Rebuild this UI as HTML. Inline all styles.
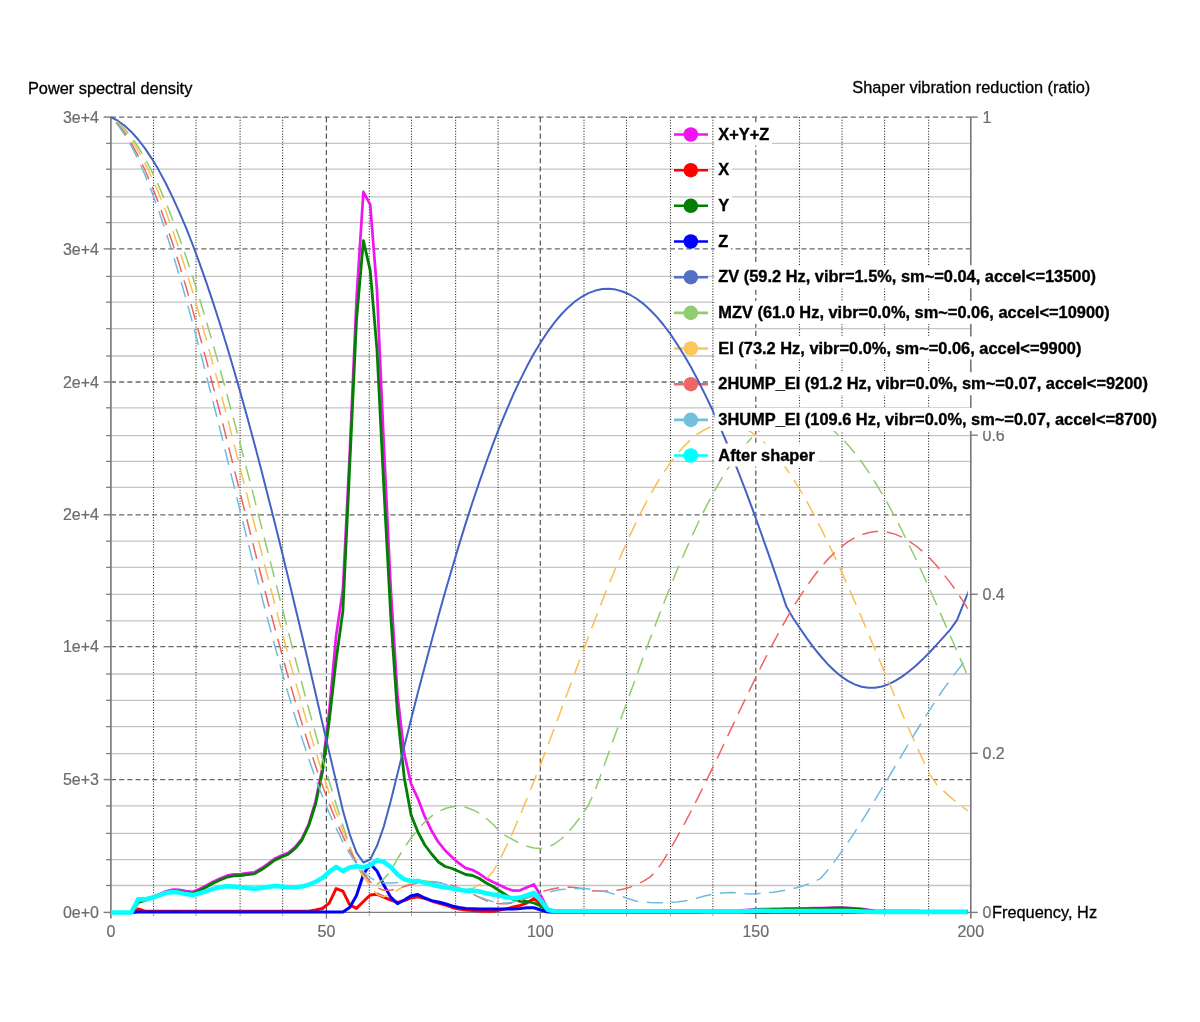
<!DOCTYPE html>
<html><head><meta charset="utf-8"><style>
html,body{margin:0;padding:0;background:#fff;width:1200px;height:1022px;overflow:hidden}
svg{position:absolute;left:0;top:0;will-change:transform}
text{font-family:"Liberation Sans",sans-serif}
.lb{font-size:16px;fill:#6b6b70;stroke:#6b6b70;stroke-width:0.2px}
.tt{font-size:16.35px;fill:#000;stroke:#000;stroke-width:0.3px}
.lg{font-size:16.4px;font-weight:bold;fill:#000;stroke:#000;stroke-width:0.35px}
</style></head><body>
<svg width="1200" height="1022" viewBox="0 0 1200 1022">
<rect width="1200" height="1022" fill="#fff"/>
<line x1="110.9" y1="143.4" x2="970.8" y2="143.4" stroke="#c4c4c4" stroke-width="1.3"/>
<line x1="106.10000000000001" y1="143.4" x2="110.9" y2="143.4" stroke="#7c7c82" stroke-width="1.3"/>
<line x1="110.9" y1="169.2" x2="970.8" y2="169.2" stroke="#c4c4c4" stroke-width="1.3"/>
<line x1="106.10000000000001" y1="169.2" x2="110.9" y2="169.2" stroke="#7c7c82" stroke-width="1.3"/>
<line x1="110.9" y1="196.8" x2="970.8" y2="196.8" stroke="#c4c4c4" stroke-width="1.3"/>
<line x1="106.10000000000001" y1="196.8" x2="110.9" y2="196.8" stroke="#7c7c82" stroke-width="1.3"/>
<line x1="110.9" y1="222.6" x2="970.8" y2="222.6" stroke="#c4c4c4" stroke-width="1.3"/>
<line x1="106.10000000000001" y1="222.6" x2="110.9" y2="222.6" stroke="#7c7c82" stroke-width="1.3"/>
<line x1="110.9" y1="276.4" x2="970.8" y2="276.4" stroke="#c4c4c4" stroke-width="1.3"/>
<line x1="106.10000000000001" y1="276.4" x2="110.9" y2="276.4" stroke="#7c7c82" stroke-width="1.3"/>
<line x1="110.9" y1="302.2" x2="970.8" y2="302.2" stroke="#c4c4c4" stroke-width="1.3"/>
<line x1="106.10000000000001" y1="302.2" x2="110.9" y2="302.2" stroke="#7c7c82" stroke-width="1.3"/>
<line x1="110.9" y1="328.6" x2="970.8" y2="328.6" stroke="#c4c4c4" stroke-width="1.3"/>
<line x1="106.10000000000001" y1="328.6" x2="110.9" y2="328.6" stroke="#7c7c82" stroke-width="1.3"/>
<line x1="110.9" y1="356.0" x2="970.8" y2="356.0" stroke="#c4c4c4" stroke-width="1.3"/>
<line x1="106.10000000000001" y1="356.0" x2="110.9" y2="356.0" stroke="#7c7c82" stroke-width="1.3"/>
<line x1="110.9" y1="407.8" x2="970.8" y2="407.8" stroke="#c4c4c4" stroke-width="1.3"/>
<line x1="106.10000000000001" y1="407.8" x2="110.9" y2="407.8" stroke="#7c7c82" stroke-width="1.3"/>
<line x1="110.9" y1="435.6" x2="970.8" y2="435.6" stroke="#c4c4c4" stroke-width="1.3"/>
<line x1="106.10000000000001" y1="435.6" x2="110.9" y2="435.6" stroke="#7c7c82" stroke-width="1.3"/>
<line x1="110.9" y1="461.4" x2="970.8" y2="461.4" stroke="#c4c4c4" stroke-width="1.3"/>
<line x1="106.10000000000001" y1="461.4" x2="110.9" y2="461.4" stroke="#7c7c82" stroke-width="1.3"/>
<line x1="110.9" y1="487.3" x2="970.8" y2="487.3" stroke="#c4c4c4" stroke-width="1.3"/>
<line x1="106.10000000000001" y1="487.3" x2="110.9" y2="487.3" stroke="#7c7c82" stroke-width="1.3"/>
<line x1="110.9" y1="541.2" x2="970.8" y2="541.2" stroke="#c4c4c4" stroke-width="1.3"/>
<line x1="106.10000000000001" y1="541.2" x2="110.9" y2="541.2" stroke="#7c7c82" stroke-width="1.3"/>
<line x1="110.9" y1="567.4" x2="970.8" y2="567.4" stroke="#c4c4c4" stroke-width="1.3"/>
<line x1="106.10000000000001" y1="567.4" x2="110.9" y2="567.4" stroke="#7c7c82" stroke-width="1.3"/>
<line x1="110.9" y1="594.3" x2="970.8" y2="594.3" stroke="#c4c4c4" stroke-width="1.3"/>
<line x1="106.10000000000001" y1="594.3" x2="110.9" y2="594.3" stroke="#7c7c82" stroke-width="1.3"/>
<line x1="110.9" y1="620.8" x2="970.8" y2="620.8" stroke="#c4c4c4" stroke-width="1.3"/>
<line x1="106.10000000000001" y1="620.8" x2="110.9" y2="620.8" stroke="#7c7c82" stroke-width="1.3"/>
<line x1="110.9" y1="674.0" x2="970.8" y2="674.0" stroke="#c4c4c4" stroke-width="1.3"/>
<line x1="106.10000000000001" y1="674.0" x2="110.9" y2="674.0" stroke="#7c7c82" stroke-width="1.3"/>
<line x1="110.9" y1="700.3" x2="970.8" y2="700.3" stroke="#c4c4c4" stroke-width="1.3"/>
<line x1="106.10000000000001" y1="700.3" x2="110.9" y2="700.3" stroke="#7c7c82" stroke-width="1.3"/>
<line x1="110.9" y1="726.6" x2="970.8" y2="726.6" stroke="#c4c4c4" stroke-width="1.3"/>
<line x1="106.10000000000001" y1="726.6" x2="110.9" y2="726.6" stroke="#7c7c82" stroke-width="1.3"/>
<line x1="110.9" y1="753.6" x2="970.8" y2="753.6" stroke="#c4c4c4" stroke-width="1.3"/>
<line x1="106.10000000000001" y1="753.6" x2="110.9" y2="753.6" stroke="#7c7c82" stroke-width="1.3"/>
<line x1="110.9" y1="805.9" x2="970.8" y2="805.9" stroke="#c4c4c4" stroke-width="1.3"/>
<line x1="106.10000000000001" y1="805.9" x2="110.9" y2="805.9" stroke="#7c7c82" stroke-width="1.3"/>
<line x1="110.9" y1="833.4" x2="970.8" y2="833.4" stroke="#c4c4c4" stroke-width="1.3"/>
<line x1="106.10000000000001" y1="833.4" x2="110.9" y2="833.4" stroke="#7c7c82" stroke-width="1.3"/>
<line x1="110.9" y1="859.7" x2="970.8" y2="859.7" stroke="#c4c4c4" stroke-width="1.3"/>
<line x1="106.10000000000001" y1="859.7" x2="110.9" y2="859.7" stroke="#7c7c82" stroke-width="1.3"/>
<line x1="110.9" y1="885.5" x2="970.8" y2="885.5" stroke="#c4c4c4" stroke-width="1.3"/>
<line x1="106.10000000000001" y1="885.5" x2="110.9" y2="885.5" stroke="#7c7c82" stroke-width="1.3"/>
<line x1="153.5" y1="117.1" x2="153.5" y2="912.4" stroke="#222" stroke-width="1.1" stroke-dasharray="1 1.72"/>
<line x1="153.5" y1="912.4" x2="153.5" y2="915.8" stroke="#444" stroke-width="1" stroke-dasharray="1 1.2"/>
<line x1="196.0" y1="117.1" x2="196.0" y2="912.4" stroke="#222" stroke-width="1.1" stroke-dasharray="1 1.72"/>
<line x1="196.0" y1="912.4" x2="196.0" y2="915.8" stroke="#444" stroke-width="1" stroke-dasharray="1 1.2"/>
<line x1="240.1" y1="117.1" x2="240.1" y2="912.4" stroke="#222" stroke-width="1.1" stroke-dasharray="1 1.72"/>
<line x1="240.1" y1="912.4" x2="240.1" y2="915.8" stroke="#444" stroke-width="1" stroke-dasharray="1 1.2"/>
<line x1="282.6" y1="117.1" x2="282.6" y2="912.4" stroke="#222" stroke-width="1.1" stroke-dasharray="1 1.72"/>
<line x1="282.6" y1="912.4" x2="282.6" y2="915.8" stroke="#444" stroke-width="1" stroke-dasharray="1 1.2"/>
<line x1="326.4" y1="117.1" x2="326.4" y2="912.4" stroke="#555" stroke-width="1.2" stroke-dasharray="5.1 3.12"/>
<line x1="326.4" y1="912.4" x2="326.4" y2="918.6999999999999" stroke="#7c7c82" stroke-width="1.3"/>
<line x1="369.3" y1="117.1" x2="369.3" y2="912.4" stroke="#222" stroke-width="1.1" stroke-dasharray="1 1.72"/>
<line x1="369.3" y1="912.4" x2="369.3" y2="915.8" stroke="#444" stroke-width="1" stroke-dasharray="1 1.2"/>
<line x1="411.5" y1="117.1" x2="411.5" y2="912.4" stroke="#222" stroke-width="1.1" stroke-dasharray="1 1.72"/>
<line x1="411.5" y1="912.4" x2="411.5" y2="915.8" stroke="#444" stroke-width="1" stroke-dasharray="1 1.2"/>
<line x1="455.6" y1="117.1" x2="455.6" y2="912.4" stroke="#222" stroke-width="1.1" stroke-dasharray="1 1.72"/>
<line x1="455.6" y1="912.4" x2="455.6" y2="915.8" stroke="#444" stroke-width="1" stroke-dasharray="1 1.2"/>
<line x1="498.1" y1="117.1" x2="498.1" y2="912.4" stroke="#222" stroke-width="1.1" stroke-dasharray="1 1.72"/>
<line x1="498.1" y1="912.4" x2="498.1" y2="915.8" stroke="#444" stroke-width="1" stroke-dasharray="1 1.2"/>
<line x1="540.3" y1="117.1" x2="540.3" y2="912.4" stroke="#555" stroke-width="1.2" stroke-dasharray="5.1 3.12"/>
<line x1="540.3" y1="912.4" x2="540.3" y2="918.6999999999999" stroke="#7c7c82" stroke-width="1.3"/>
<line x1="584.0" y1="117.1" x2="584.0" y2="912.4" stroke="#222" stroke-width="1.1" stroke-dasharray="1 1.72"/>
<line x1="584.0" y1="912.4" x2="584.0" y2="915.8" stroke="#444" stroke-width="1" stroke-dasharray="1 1.2"/>
<line x1="626.5" y1="117.1" x2="626.5" y2="912.4" stroke="#222" stroke-width="1.1" stroke-dasharray="1 1.72"/>
<line x1="626.5" y1="912.4" x2="626.5" y2="915.8" stroke="#444" stroke-width="1" stroke-dasharray="1 1.2"/>
<line x1="670.5" y1="117.1" x2="670.5" y2="912.4" stroke="#222" stroke-width="1.1" stroke-dasharray="1 1.72"/>
<line x1="670.5" y1="912.4" x2="670.5" y2="915.8" stroke="#444" stroke-width="1" stroke-dasharray="1 1.2"/>
<line x1="712.9" y1="117.1" x2="712.9" y2="912.4" stroke="#222" stroke-width="1.1" stroke-dasharray="1 1.72"/>
<line x1="712.9" y1="912.4" x2="712.9" y2="915.8" stroke="#444" stroke-width="1" stroke-dasharray="1 1.2"/>
<line x1="755.8" y1="117.1" x2="755.8" y2="912.4" stroke="#555" stroke-width="1.2" stroke-dasharray="5.1 3.12"/>
<line x1="755.8" y1="912.4" x2="755.8" y2="918.6999999999999" stroke="#7c7c82" stroke-width="1.3"/>
<line x1="799.5" y1="117.1" x2="799.5" y2="912.4" stroke="#222" stroke-width="1.1" stroke-dasharray="1 1.72"/>
<line x1="799.5" y1="912.4" x2="799.5" y2="915.8" stroke="#444" stroke-width="1" stroke-dasharray="1 1.2"/>
<line x1="842.0" y1="117.1" x2="842.0" y2="912.4" stroke="#222" stroke-width="1.1" stroke-dasharray="1 1.72"/>
<line x1="842.0" y1="912.4" x2="842.0" y2="915.8" stroke="#444" stroke-width="1" stroke-dasharray="1 1.2"/>
<line x1="884.6" y1="117.1" x2="884.6" y2="912.4" stroke="#222" stroke-width="1.1" stroke-dasharray="1 1.72"/>
<line x1="884.6" y1="912.4" x2="884.6" y2="915.8" stroke="#444" stroke-width="1" stroke-dasharray="1 1.2"/>
<line x1="928.6" y1="117.1" x2="928.6" y2="912.4" stroke="#222" stroke-width="1.1" stroke-dasharray="1 1.72"/>
<line x1="928.6" y1="912.4" x2="928.6" y2="915.8" stroke="#444" stroke-width="1" stroke-dasharray="1 1.2"/>
<line x1="110.9" y1="117.1" x2="970.8" y2="117.1" stroke="#6a6a6a" stroke-width="1.3" stroke-dasharray="5.1 3.12"/>
<line x1="103.60000000000001" y1="117.1" x2="110.9" y2="117.1" stroke="#7c7c82" stroke-width="1.4"/>
<line x1="110.9" y1="248.9" x2="970.8" y2="248.9" stroke="#6a6a6a" stroke-width="1.3" stroke-dasharray="5.1 3.12"/>
<line x1="103.60000000000001" y1="248.9" x2="110.9" y2="248.9" stroke="#7c7c82" stroke-width="1.4"/>
<line x1="110.9" y1="382.0" x2="970.8" y2="382.0" stroke="#6a6a6a" stroke-width="1.3" stroke-dasharray="5.1 3.12"/>
<line x1="103.60000000000001" y1="382.0" x2="110.9" y2="382.0" stroke="#7c7c82" stroke-width="1.4"/>
<line x1="110.9" y1="514.8" x2="970.8" y2="514.8" stroke="#6a6a6a" stroke-width="1.3" stroke-dasharray="5.1 3.12"/>
<line x1="103.60000000000001" y1="514.8" x2="110.9" y2="514.8" stroke="#7c7c82" stroke-width="1.4"/>
<line x1="110.9" y1="646.7" x2="970.8" y2="646.7" stroke="#6a6a6a" stroke-width="1.3" stroke-dasharray="5.1 3.12"/>
<line x1="103.60000000000001" y1="646.7" x2="110.9" y2="646.7" stroke="#7c7c82" stroke-width="1.4"/>
<line x1="110.9" y1="779.6" x2="970.8" y2="779.6" stroke="#6a6a6a" stroke-width="1.3" stroke-dasharray="5.1 3.12"/>
<line x1="103.60000000000001" y1="779.6" x2="110.9" y2="779.6" stroke="#7c7c82" stroke-width="1.4"/>
<line x1="110.9" y1="912.4" x2="970.8" y2="912.4" stroke="#7c7c82" stroke-width="1.4"/>
<line x1="103.60000000000001" y1="912.4" x2="110.9" y2="912.4" stroke="#7c7c82" stroke-width="1.4"/>
<line x1="110.9" y1="117.1" x2="110.9" y2="918.4" stroke="#7c7c82" stroke-width="1.7"/>
<line x1="970.8" y1="117.1" x2="970.8" y2="918.4" stroke="#7c7c82" stroke-width="1.7"/>
<line x1="970.8" y1="117.1" x2="977.8" y2="117.1" stroke="#7c7c82" stroke-width="1.4"/>
<line x1="970.8" y1="276.2" x2="977.8" y2="276.2" stroke="#7c7c82" stroke-width="1.4"/>
<line x1="970.8" y1="435.2" x2="977.8" y2="435.2" stroke="#7c7c82" stroke-width="1.4"/>
<line x1="970.8" y1="594.3" x2="977.8" y2="594.3" stroke="#7c7c82" stroke-width="1.4"/>
<line x1="970.8" y1="753.3" x2="977.8" y2="753.3" stroke="#7c7c82" stroke-width="1.4"/>
<line x1="970.8" y1="912.4" x2="977.8" y2="912.4" stroke="#7c7c82" stroke-width="1.4"/>
<text x="99" y="122.7" text-anchor="end" class="lb">3e+4</text>
<text x="99" y="254.5" text-anchor="end" class="lb">3e+4</text>
<text x="99" y="387.6" text-anchor="end" class="lb">2e+4</text>
<text x="99" y="520.4" text-anchor="end" class="lb">2e+4</text>
<text x="99" y="652.3" text-anchor="end" class="lb">1e+4</text>
<text x="99" y="785.2" text-anchor="end" class="lb">5e+3</text>
<text x="99" y="918.0" text-anchor="end" class="lb">0e+0</text>
<text x="982.5" y="122.7" class="lb">1</text>
<text x="982.5" y="281.8" class="lb">0.8</text>
<text x="982.5" y="440.8" class="lb">0.6</text>
<text x="982.5" y="599.9" class="lb">0.4</text>
<text x="982.5" y="758.9" class="lb">0.2</text>
<text x="982.5" y="918.0" class="lb">0</text>
<text x="110.9" y="936.5" text-anchor="middle" class="lb">0</text>
<text x="326.4" y="936.5" text-anchor="middle" class="lb">50</text>
<text x="540.3" y="936.5" text-anchor="middle" class="lb">100</text>
<text x="755.8" y="936.5" text-anchor="middle" class="lb">150</text>
<text x="970.8" y="936.5" text-anchor="middle" class="lb">200</text>
<text x="992" y="917.6" class="tt">Frequency, Hz</text>
<text x="27.9" y="93.6" class="tt">Power spectral density</text>
<text x="1090.3" y="93.4" text-anchor="end" class="tt">Shaper vibration reduction (ratio)</text>
<line x1="674" y1="134.5" x2="708" y2="134.5" stroke="#f014f0" stroke-width="2.6"/><circle cx="690.8" cy="134.5" r="7.3" fill="#f014f0"/><line x1="674" y1="170.2" x2="708" y2="170.2" stroke="#ff0000" stroke-width="2.6"/><circle cx="690.8" cy="170.2" r="7.3" fill="#ff0000"/><line x1="674" y1="205.8" x2="708" y2="205.8" stroke="#007f00" stroke-width="2.6"/><circle cx="690.8" cy="205.8" r="7.3" fill="#007f00"/><line x1="674" y1="241.5" x2="708" y2="241.5" stroke="#0000ff" stroke-width="2.6"/><circle cx="690.8" cy="241.5" r="7.3" fill="#0000ff"/><line x1="674" y1="277.2" x2="708" y2="277.2" stroke="#5470c6" stroke-width="2.6"/><circle cx="690.8" cy="277.2" r="7.3" fill="#5470c6"/><line x1="674" y1="312.9" x2="708" y2="312.9" stroke="#91cc75" stroke-width="2.6"/><circle cx="690.8" cy="312.9" r="7.3" fill="#91cc75"/><line x1="674" y1="348.5" x2="708" y2="348.5" stroke="#fac858" stroke-width="2.6"/><circle cx="690.8" cy="348.5" r="7.3" fill="#fac858"/><line x1="674" y1="384.2" x2="708" y2="384.2" stroke="#ee6666" stroke-width="2.6"/><circle cx="690.8" cy="384.2" r="7.3" fill="#ee6666"/><line x1="674" y1="419.9" x2="708" y2="419.9" stroke="#73c0de" stroke-width="2.6"/><circle cx="690.8" cy="419.9" r="7.3" fill="#73c0de"/><line x1="674" y1="455.5" x2="708" y2="455.5" stroke="#00ffff" stroke-width="2.6"/><circle cx="690.8" cy="455.5" r="7.3" fill="#00ffff"/>
<g clip-path="url(#clip)">
<clipPath id="clip"><rect x="110.9" y="114.1" width="856.9" height="801.3"/></clipPath>
<path d="M110.9,912.4 L117.7,912.4 L124.5,912.4 L131.4,912.4 L138.2,898.8 L145.0,899.0 L151.8,897.0 L158.7,894.5 L165.5,891.5 L172.3,889.7 L179.1,889.9 L186.0,891.2 L192.8,891.8 L199.6,889.0 L206.4,885.5 L213.2,881.7 L220.1,878.5 L226.9,875.7 L233.7,874.4 L240.5,874.0 L247.4,873.2 L254.2,872.4 L261.0,868.5 L267.8,863.9 L274.7,858.7 L281.5,855.4 L288.3,852.7 L295.1,847.0 L302.0,838.5 L308.8,824.0 L315.6,801.3 L322.4,767.8 L329.2,711.5 L336.1,635.9 L342.9,589.5 L349.7,453.6 L356.5,299.1 L363.4,191.8 L370.2,204.6 L377.0,290.4 L383.8,444.4 L390.7,587.6 L397.5,695.2 L404.3,753.8 L411.1,784.0 L417.9,798.6 L424.8,816.7 L431.6,830.8 L438.4,842.2 L445.2,850.5 L452.1,857.2 L458.9,863.2 L465.7,868.1 L472.5,870.0 L479.4,873.8 L486.2,878.5 L493.0,882.0 L499.8,885.3 L506.7,888.5 L513.5,890.7 L520.3,890.3 L527.1,887.3 L533.9,884.5 L540.8,895.7 L547.6,908.7 L554.4,910.8 L561.2,910.8 L568.1,910.8 L574.9,910.8 L581.7,910.8 L588.5,910.8 L595.4,910.8 L602.2,910.8 L609.0,910.8 L615.8,910.8 L622.6,910.8 L629.5,910.8 L636.3,910.8 L643.1,910.8 L649.9,910.8 L656.8,910.8 L663.6,910.8 L670.4,910.8 L677.2,910.8 L684.1,910.8 L690.9,910.8 L697.7,910.8 L704.5,910.8 L711.4,910.8 L718.2,910.8 L725.0,910.8 L731.8,910.8 L738.6,910.6 L745.5,910.1 L752.3,909.6 L759.1,909.1 L765.9,909.0 L772.8,908.9 L779.6,908.8 L786.4,908.7 L793.2,908.6 L800.1,908.5 L806.9,908.3 L813.7,908.2 L820.5,908.0 L827.3,907.8 L834.2,907.7 L841.0,907.5 L847.8,907.9 L854.6,908.4 L861.5,908.9 L868.3,909.9 L875.1,910.8 L881.9,910.8 L888.8,910.8 L895.6,910.9 L902.4,910.9 L909.2,910.9 L916.1,910.9 L922.9,911.0 L929.7,911.0 L936.5,911.0 L943.3,911.0 L950.2,911.0 L957.0,911.1 L963.8,911.1 L970.6,911.1" fill="none" stroke="#f014f0" stroke-width="2.7" stroke-linejoin="round"/>
<path d="M110.9,912.4 L117.7,912.4 L124.5,912.4 L131.4,912.4 L138.2,909.0 L145.0,911.2 L151.8,911.2 L158.7,911.2 L165.5,911.2 L172.3,911.2 L179.1,911.2 L186.0,911.2 L192.8,911.2 L199.6,911.2 L206.4,911.2 L213.2,911.2 L220.1,911.2 L226.9,911.2 L233.7,911.2 L240.5,911.2 L247.4,911.2 L254.2,911.2 L261.0,911.2 L267.8,911.2 L274.7,911.2 L281.5,911.2 L288.3,911.2 L295.1,911.2 L302.0,911.2 L308.8,911.2 L315.6,910.0 L322.4,908.5 L329.2,903.2 L336.1,888.6 L342.9,891.2 L349.7,904.9 L356.5,908.4 L363.4,901.5 L370.2,895.0 L377.0,894.2 L383.8,897.2 L390.7,900.2 L397.5,902.4 L404.3,900.6 L411.1,898.0 L417.9,896.8 L424.8,898.5 L431.6,901.0 L438.4,903.0 L445.2,905.0 L452.1,907.5 L458.9,909.0 L465.7,910.0 L472.5,910.5 L479.4,911.0 L486.2,911.2 L493.0,911.2 L499.8,910.0 L506.7,908.7 L513.5,907.0 L520.3,905.3 L527.1,902.8 L533.9,898.5 L540.8,904.5 L547.6,911.0 L554.4,912.2 L561.2,912.2 L568.1,912.2 L574.9,912.2 L581.7,912.2 L588.5,912.2 L595.4,912.2 L602.2,912.2 L609.0,912.2 L615.8,912.2 L622.6,912.2 L629.5,912.2 L636.3,912.2 L643.1,912.2 L649.9,912.2 L656.8,912.2 L663.6,912.2 L670.4,912.2 L677.2,912.2 L684.1,912.2 L690.9,912.2 L697.7,912.2 L704.5,912.2 L711.4,912.2 L718.2,912.2 L725.0,912.2 L731.8,912.2 L738.6,912.2 L745.5,912.2 L752.3,912.2 L759.1,912.2 L765.9,912.2 L772.8,912.2 L779.6,912.2 L786.4,912.2 L793.2,912.2 L800.1,912.2 L806.9,912.2 L813.7,912.2 L820.5,912.2 L827.3,912.2 L834.2,912.2 L841.0,912.2 L847.8,912.2 L854.6,912.2 L861.5,912.2 L868.3,912.2 L875.1,912.2 L881.9,912.2 L888.8,912.2 L895.6,912.2 L902.4,912.2 L909.2,912.2 L916.1,912.2 L922.9,912.2 L929.7,912.2 L936.5,912.2 L943.3,912.2 L950.2,912.2 L957.0,912.2 L963.8,912.2 L970.6,912.2" fill="none" stroke="#ff0000" stroke-width="2.9" stroke-linejoin="round"/>
<path d="M110.9,912.4 L117.7,912.4 L124.5,912.4 L131.4,912.4 L138.2,902.5 L145.0,900.5 L151.8,898.5 L158.7,896.0 L165.5,893.0 L172.3,891.2 L179.1,891.4 L186.0,892.7 L192.8,893.3 L199.6,890.5 L206.4,887.0 L213.2,883.2 L220.1,880.0 L226.9,877.2 L233.7,875.9 L240.5,875.5 L247.4,874.7 L254.2,873.9 L261.0,870.0 L267.8,865.4 L274.7,860.2 L281.5,856.9 L288.3,854.2 L295.1,848.5 L302.0,840.0 L308.8,825.5 L315.6,804.0 L322.4,772.0 L329.2,721.0 L336.1,660.0 L342.9,611.0 L349.7,466.0 L356.5,320.0 L363.4,240.6 L370.2,270.4 L377.0,350.0 L383.8,487.0 L390.7,615.0 L397.5,714.0 L404.3,778.0 L411.1,815.0 L417.9,832.0 L424.8,845.0 L431.6,854.0 L438.4,862.0 L445.2,866.5 L452.1,868.5 L458.9,871.5 L465.7,874.5 L472.5,875.5 L479.4,878.5 L486.2,883.0 L493.0,886.5 L499.8,891.0 L506.7,895.5 L513.5,899.5 L520.3,901.3 L527.1,901.5 L533.9,903.0 L540.8,906.0 L547.6,910.5 L554.4,911.3 L561.2,911.3 L568.1,911.3 L574.9,911.3 L581.7,911.3 L588.5,911.3 L595.4,911.3 L602.2,911.3 L609.0,911.3 L615.8,911.3 L622.6,911.3 L629.5,911.3 L636.3,911.3 L643.1,911.3 L649.9,911.3 L656.8,911.3 L663.6,911.3 L670.4,911.3 L677.2,911.3 L684.1,911.3 L690.9,911.3 L697.7,911.3 L704.5,911.3 L711.4,911.3 L718.2,911.3 L725.0,911.3 L731.8,911.3 L738.6,911.1 L745.5,910.6 L752.3,910.1 L759.1,909.6 L765.9,909.5 L772.8,909.4 L779.6,909.3 L786.4,909.2 L793.2,909.1 L800.1,909.0 L806.9,908.8 L813.7,908.7 L820.5,908.5 L827.3,908.3 L834.2,908.2 L841.0,908.0 L847.8,908.4 L854.6,908.9 L861.5,909.4 L868.3,910.4 L875.1,911.3 L881.9,911.3 L888.8,911.3 L895.6,911.4 L902.4,911.4 L909.2,911.4 L916.1,911.4 L922.9,911.5 L929.7,911.5 L936.5,911.5 L943.3,911.5 L950.2,911.5 L957.0,911.6 L963.8,911.6 L970.6,911.6" fill="none" stroke="#007f00" stroke-width="2.8" stroke-linejoin="round"/>
<path d="M110.9,912.4 L117.7,912.4 L124.5,912.4 L131.4,912.4 L138.2,912.1 L145.0,912.1 L151.8,912.1 L158.7,912.1 L165.5,912.1 L172.3,912.1 L179.1,912.1 L186.0,912.1 L192.8,912.1 L199.6,912.1 L206.4,912.1 L213.2,912.1 L220.1,912.1 L226.9,912.1 L233.7,912.1 L240.5,912.1 L247.4,912.1 L254.2,912.1 L261.0,912.1 L267.8,912.1 L274.7,912.1 L281.5,912.1 L288.3,912.1 L295.1,912.1 L302.0,912.1 L308.8,912.1 L315.6,912.1 L322.4,912.1 L329.2,912.1 L336.1,912.1 L342.9,912.1 L349.7,907.5 L356.5,895.5 L363.4,874.5 L370.2,864.0 L377.0,871.0 L383.8,885.0 L390.7,897.2 L397.5,903.6 L404.3,900.0 L411.1,895.8 L417.9,894.6 L424.8,898.0 L431.6,900.6 L438.4,902.0 L445.2,903.8 L452.1,906.0 L458.9,907.5 L465.7,908.4 L472.5,908.8 L479.4,909.1 L486.2,909.1 L493.0,909.1 L499.8,909.1 L506.7,909.1 L513.5,909.0 L520.3,908.5 L527.1,907.8 L533.9,907.8 L540.8,910.0 L547.6,912.0 L554.4,912.1 L561.2,912.1 L568.1,912.1 L574.9,912.1 L581.7,912.1 L588.5,912.1 L595.4,912.1 L602.2,912.1 L609.0,912.1 L615.8,912.1 L622.6,912.1 L629.5,912.1 L636.3,912.1 L643.1,912.1 L649.9,912.1 L656.8,912.1 L663.6,912.1 L670.4,912.1 L677.2,912.1 L684.1,912.1 L690.9,912.1 L697.7,912.1 L704.5,912.1 L711.4,912.1 L718.2,912.1 L725.0,912.1 L731.8,912.1 L738.6,912.1 L745.5,912.1 L752.3,912.1 L759.1,912.1 L765.9,912.1 L772.8,912.1 L779.6,912.1 L786.4,912.1 L793.2,912.1 L800.1,912.1 L806.9,912.1 L813.7,912.1 L820.5,912.1 L827.3,912.1 L834.2,912.1 L841.0,912.1 L847.8,912.1 L854.6,912.1 L861.5,912.1 L868.3,912.1 L875.1,912.1 L881.9,912.1 L888.8,912.1 L895.6,912.1 L902.4,912.1 L909.2,912.1 L916.1,912.1 L922.9,912.1 L929.7,912.1 L936.5,912.1 L943.3,912.1 L950.2,912.1 L957.0,912.1 L963.8,912.1 L970.6,912.1" fill="none" stroke="#0000ff" stroke-width="3" stroke-linejoin="round"/>
<path d="M110.9,117.1 L117.7,120.7 L124.5,125.6 L131.4,131.9 L138.2,139.5 L145.0,148.4 L151.8,158.6 L158.7,170.1 L165.5,182.7 L172.3,196.6 L179.1,211.6 L186.0,227.7 L192.8,245.0 L199.6,263.3 L206.4,282.6 L213.2,302.9 L220.1,324.2 L226.9,346.3 L233.7,369.3 L240.5,393.1 L247.4,417.7 L254.2,442.9 L261.0,468.8 L267.8,495.4 L274.7,522.5 L281.5,550.0 L288.3,578.1 L295.1,606.5 L302.0,635.3 L308.8,664.3 L315.6,693.5 L322.4,722.9 L329.2,752.2 L336.1,781.5 L342.9,810.6 L349.7,834.3 L356.5,852.6 L363.4,862.5 L370.2,859.5 L377.0,845.8 L383.8,826.6 L390.7,801.2 L397.5,773.7 L404.3,746.3 L411.1,719.2 L417.9,692.6 L424.8,666.5 L431.6,641.0 L438.4,616.0 L445.2,591.8 L452.1,568.2 L458.9,545.4 L465.7,523.4 L472.5,502.2 L479.4,481.9 L486.2,462.5 L493.0,443.9 L499.8,426.4 L506.7,409.8 L513.5,394.2 L520.3,379.6 L527.1,366.1 L533.9,353.6 L540.8,342.2 L547.6,331.8 L554.4,322.6 L561.2,314.5 L568.1,307.4 L574.9,301.5 L581.7,296.8 L588.5,293.1 L595.4,290.6 L602.2,289.1 L609.0,288.8 L615.8,289.6 L622.6,291.5 L629.5,294.5 L636.3,298.5 L643.1,303.6 L649.9,309.7 L656.8,316.9 L663.6,325.0 L670.4,334.1 L677.2,344.2 L684.1,355.2 L690.9,367.0 L697.7,379.8 L704.5,393.4 L711.4,407.7 L718.2,422.9 L725.0,438.7 L731.8,455.3 L738.6,472.5 L745.5,490.3 L752.3,508.6 L759.1,527.5 L765.9,546.7 L772.8,566.4 L779.6,586.4 L786.4,606.6 L793.2,618.2 L800.1,628.5 L806.9,638.4 L813.7,647.6 L820.5,656.0 L827.3,663.7 L834.2,670.5 L841.0,676.2 L847.8,680.9 L854.6,684.4 L861.5,686.7 L868.3,687.8 L875.1,687.7 L881.9,686.5 L888.8,684.1 L895.6,680.7 L902.4,676.4 L909.2,671.3 L916.1,665.5 L922.9,659.1 L929.7,652.2 L936.5,644.9 L943.3,637.3 L950.2,629.6 L957.0,620.2 L963.8,603.1 L970.6,586.4" fill="none" stroke="#4462c4" stroke-width="2" stroke-linejoin="round"/>
<path d="M110.9,117.1 L117.7,122.1 L124.5,128.8 L131.4,137.1 L138.2,147.0 L145.0,158.5 L151.8,171.5 L158.7,185.9 L165.5,201.6 L172.3,218.8 L179.1,237.1 L186.0,256.6 L192.8,277.3 L199.6,298.9 L206.4,321.5 L213.2,344.9 L220.1,369.1 L226.9,394.0 L233.7,419.4 L240.5,445.3 L247.4,471.6 L254.2,498.1 L261.0,524.9 L267.8,551.7 L274.7,578.6 L281.5,605.3 L288.3,631.8 L295.1,658.0 L302.0,683.9 L308.8,709.2 L315.6,734.0 L322.4,758.2 L329.2,781.5 L336.1,804.1 L342.9,825.6 L349.7,846.1 L356.5,864.9 L363.4,876.8 L370.2,884.0 L377.0,884.3 L383.8,878.9 L390.7,870.8 L397.5,858.8 L404.3,847.7 L411.1,837.9 L417.9,829.3 L424.8,822.0 L431.6,816.1 L438.4,811.6 L445.2,808.5 L452.1,806.7 L458.9,806.4 L465.7,807.3 L472.5,809.7 L479.4,813.3 L486.2,818.2 L493.0,824.3 L499.8,831.7 L506.7,836.3 L513.5,840.0 L520.3,843.5 L527.1,846.3 L533.9,848.1 L540.8,848.5 L547.6,847.1 L554.4,844.0 L561.2,839.0 L568.1,832.3 L574.9,824.3 L581.7,815.1 L588.5,805.0 L595.4,789.5 L602.2,770.9 L609.0,752.1 L615.8,733.1 L622.6,714.1 L629.5,695.2 L636.3,676.4 L643.1,657.7 L649.9,639.3 L656.8,621.3 L663.6,603.7 L670.4,586.5 L677.2,569.8 L684.1,553.8 L690.9,538.4 L697.7,523.7 L704.5,509.8 L711.4,496.7 L718.2,484.4 L725.0,473.0 L731.8,462.6 L738.6,453.1 L745.5,444.7 L752.3,437.2 L759.1,430.8 L765.9,425.5 L772.8,421.2 L779.6,418.1 L786.4,416.0 L793.2,415.0 L800.1,415.0 L806.9,416.2 L813.7,418.4 L820.5,421.7 L827.3,425.9 L834.2,431.2 L841.0,437.5 L847.8,444.7 L854.6,452.8 L861.5,461.8 L868.3,471.6 L875.1,482.2 L881.9,493.6 L888.8,505.6 L895.6,518.3 L902.4,531.5 L909.2,545.3 L916.1,559.5 L922.9,574.2 L929.7,589.2 L936.5,604.4 L943.3,619.9 L950.2,635.5 L957.0,651.2 L963.8,666.9 L970.6,682.5" fill="none" stroke="#8fcc6f" stroke-width="1.5" stroke-linejoin="round" stroke-dasharray="16.1 8.6" stroke-dashoffset="17.1"/>
<path d="M110.9,117.1 L117.7,122.8 L124.5,130.3 L131.4,139.5 L138.2,150.5 L145.0,163.2 L151.8,177.5 L158.7,193.3 L165.5,210.6 L172.3,229.2 L179.1,249.2 L186.0,270.3 L192.8,292.5 L199.6,315.7 L206.4,339.8 L213.2,364.6 L220.1,390.1 L226.9,416.2 L233.7,442.7 L240.5,469.4 L247.4,496.4 L254.2,523.4 L261.0,550.4 L267.8,577.2 L274.7,603.8 L281.5,629.9 L288.3,655.6 L295.1,680.6 L302.0,704.9 L308.8,728.5 L315.6,751.1 L322.4,772.6 L329.2,793.1 L336.1,812.5 L342.9,830.5 L349.7,847.1 L356.5,862.2 L363.4,875.5 L370.2,886.5 L377.0,894.2 L383.8,896.7 L390.7,894.2 L397.5,890.0 L404.3,886.0 L411.1,883.0 L417.9,881.2 L424.8,880.8 L431.6,881.7 L438.4,884.1 L445.2,887.1 L452.1,888.7 L458.9,889.9 L465.7,890.0 L472.5,888.4 L479.4,884.7 L486.2,879.0 L493.0,871.7 L499.8,859.8 L506.7,845.6 L513.5,830.6 L520.3,814.8 L527.1,798.4 L533.9,781.4 L540.8,763.9 L547.6,746.1 L554.4,728.0 L561.2,709.7 L568.1,691.3 L574.9,672.9 L581.7,654.6 L588.5,636.5 L595.4,618.6 L602.2,601.1 L609.0,584.1 L615.8,567.6 L622.6,551.7 L629.5,536.4 L636.3,521.9 L643.1,508.2 L649.9,495.4 L656.8,483.5 L663.6,472.6 L670.4,462.7 L677.2,453.8 L684.1,446.1 L690.9,439.5 L697.7,434.0 L704.5,429.7 L711.4,426.6 L718.2,424.7 L725.0,424.0 L731.8,424.5 L738.6,426.1 L745.5,428.9 L752.3,432.9 L759.1,438.0 L765.9,444.1 L772.8,451.4 L779.6,459.6 L786.4,468.8 L793.2,478.9 L800.1,489.9 L806.9,501.6 L813.7,514.2 L820.5,527.4 L827.3,541.2 L834.2,555.6 L841.0,570.5 L847.8,585.8 L854.6,601.4 L861.5,617.3 L868.3,633.4 L875.1,649.6 L881.9,665.9 L888.8,682.1 L895.6,698.2 L902.4,714.1 L909.2,729.7 L916.1,745.0 L922.9,759.9 L929.7,774.3 L936.5,784.2 L943.3,790.8 L950.2,796.9 L957.0,802.7 L963.8,807.9 L970.6,812.8" fill="none" stroke="#fbbf4f" stroke-width="1.5" stroke-linejoin="round" stroke-dasharray="16.1 8.6" stroke-dashoffset="17.1"/>
<path d="M110.9,117.1 L117.7,123.9 L124.5,132.7 L131.4,143.3 L138.2,155.8 L145.0,170.0 L151.8,185.9 L158.7,203.3 L165.5,222.3 L172.3,242.6 L179.1,264.1 L186.0,286.8 L192.8,310.6 L199.6,335.2 L206.4,360.6 L213.2,386.6 L220.1,413.1 L226.9,440.0 L233.7,467.1 L240.5,494.3 L247.4,521.5 L254.2,548.6 L261.0,575.3 L267.8,601.7 L274.7,627.5 L281.5,652.7 L288.3,677.2 L295.1,700.9 L302.0,723.6 L308.8,745.3 L315.6,766.0 L322.4,785.5 L329.2,803.7 L336.1,820.7 L342.9,836.2 L349.7,850.3 L356.5,862.7 L363.4,873.3 L370.2,881.8 L377.0,887.6 L383.8,890.3 L390.7,890.3 L397.5,888.7 L404.3,886.5 L411.1,884.5 L417.9,882.9 L424.8,882.1 L431.6,881.9 L438.4,882.4 L445.2,883.7 L452.1,885.5 L458.9,887.9 L465.7,890.7 L472.5,893.9 L479.4,897.3 L486.2,900.7 L493.0,902.9 L499.8,903.8 L506.7,903.7 L513.5,902.8 L520.3,900.9 L527.1,897.7 L533.9,894.8 L540.8,892.2 L547.6,890.1 L554.4,888.5 L561.2,887.5 L568.1,887.1 L574.9,887.4 L581.7,888.5 L588.5,890.3 L595.4,891.0 L602.2,891.1 L609.0,890.9 L615.8,890.4 L622.6,889.3 L629.5,887.4 L636.3,884.7 L643.1,881.3 L649.9,877.1 L656.8,870.7 L663.6,860.1 L670.4,848.8 L677.2,836.9 L684.1,824.4 L690.9,811.5 L697.7,798.1 L704.5,784.4 L711.4,770.4 L718.2,756.2 L725.0,741.8 L731.8,727.4 L738.6,713.0 L745.5,698.7 L752.3,684.6 L759.1,670.6 L765.9,657.0 L772.8,643.8 L779.6,631.1 L786.4,618.9 L793.2,607.2 L800.1,596.2 L806.9,586.0 L813.7,576.5 L820.5,567.8 L827.3,559.9 L834.2,553.0 L841.0,547.0 L847.8,541.9 L854.6,537.8 L861.5,534.7 L868.3,532.7 L875.1,531.6 L881.9,531.5 L888.8,532.5 L895.6,534.4 L902.4,537.3 L909.2,541.2 L916.1,546.0 L922.9,551.7 L929.7,558.3 L936.5,565.6 L943.3,573.8 L950.2,582.6 L957.0,592.2 L963.8,602.3 L970.6,613.0" fill="none" stroke="#ee6262" stroke-width="1.5" stroke-linejoin="round" stroke-dasharray="16.1 8.6" stroke-dashoffset="17.1"/>
<path d="M110.9,117.1 L117.7,124.7 L124.5,134.4 L131.4,146.1 L138.2,159.6 L145.0,174.9 L151.8,191.9 L158.7,210.6 L165.5,230.7 L172.3,252.2 L179.1,274.9 L186.0,298.8 L192.8,323.6 L199.6,349.3 L206.4,375.6 L213.2,402.5 L220.1,429.7 L226.9,457.3 L233.7,484.9 L240.5,512.5 L247.4,539.9 L254.2,567.1 L261.0,593.8 L267.8,619.9 L274.7,645.4 L281.5,670.1 L288.3,693.9 L295.1,716.7 L302.0,738.4 L308.8,759.0 L315.6,778.4 L322.4,796.4 L329.2,813.0 L336.1,828.2 L342.9,841.8 L349.7,853.7 L356.5,863.8 L363.4,871.9 L370.2,877.7 L377.0,881.3 L383.8,882.9 L390.7,883.1 L397.5,882.5 L404.3,881.7 L411.1,881.0 L417.9,880.6 L424.8,880.8 L431.6,881.4 L438.4,882.6 L445.2,884.2 L452.1,886.2 L458.9,888.6 L465.7,891.3 L472.5,894.1 L479.4,896.9 L486.2,899.5 L493.0,901.7 L499.8,903.0 L506.7,903.0 L513.5,901.9 L520.3,900.1 L527.1,898.0 L533.9,895.9 L540.8,893.9 L547.6,892.2 L554.4,890.7 L561.2,889.6 L568.1,888.9 L574.9,888.6 L581.7,888.6 L588.5,889.1 L595.4,889.9 L602.2,891.1 L609.0,892.6 L615.8,894.5 L622.6,896.6 L629.5,899.0 L636.3,901.2 L643.1,901.9 L649.9,902.4 L656.8,902.7 L663.6,902.7 L670.4,902.4 L677.2,901.9 L684.1,901.1 L690.9,900.1 L697.7,897.9 L704.5,896.1 L711.4,894.5 L718.2,893.4 L725.0,892.7 L731.8,892.5 L738.6,892.8 L745.5,893.7 L752.3,893.9 L759.1,893.5 L765.9,892.9 L772.8,892.2 L779.6,891.3 L786.4,890.1 L793.2,888.6 L800.1,886.7 L806.9,884.4 L813.7,881.7 L820.5,878.6 L827.3,870.8 L834.2,861.9 L841.0,852.4 L847.8,842.6 L854.6,832.3 L861.5,821.7 L868.3,810.8 L875.1,799.7 L881.9,788.4 L888.8,777.0 L895.6,765.5 L902.4,754.1 L909.2,742.7 L916.1,731.5 L922.9,720.5 L929.7,709.8 L936.5,699.4 L943.3,689.4 L950.2,679.9 L957.0,670.9 L963.8,662.4 L970.6,654.5" fill="none" stroke="#6ebbe0" stroke-width="1.5" stroke-linejoin="round" stroke-dasharray="16.1 8.6" stroke-dashoffset="17.1"/>
<path d="M110.9,912.4 L117.7,912.4 L124.5,912.4 L131.4,912.4 L138.2,899.2 L145.0,899.5 L151.8,897.8 L158.7,895.7 L165.5,893.2 L172.3,892.0 L179.1,892.6 L186.0,894.1 L192.8,895.1 L199.6,893.3 L206.4,891.1 L213.2,888.9 L220.1,887.3 L226.9,886.3 L233.7,886.5 L240.5,887.3 L247.4,888.0 L254.2,888.8 L261.0,887.9 L267.8,887.0 L274.7,886.1 L281.5,886.4 L288.3,887.3 L295.1,887.2 L302.0,886.6 L308.8,884.8 L315.6,881.8 L322.4,877.9 L329.2,871.9 L336.1,866.9 L342.9,871.1 L349.7,867.4 L356.5,866.3 L363.4,867.2 L370.2,865.4 L377.0,860.3 L383.8,861.9 L390.7,867.0 L397.5,874.5 L404.3,879.3 L411.1,881.2 L417.9,880.9 L424.8,882.8 L431.6,884.5 L438.4,886.2 L445.2,887.4 L452.1,888.5 L458.9,889.7 L465.7,890.7 L472.5,890.5 L479.4,891.5 L486.2,893.2 L493.0,894.5 L499.8,895.8 L506.7,897.3 L513.5,898.3 L520.3,897.6 L527.1,895.2 L533.9,892.8 L540.8,900.4 L547.6,909.7 L554.4,911.2 L561.2,911.2 L568.1,911.2 L574.9,911.2 L581.7,911.2 L588.5,911.2 L595.4,911.2 L602.2,911.2 L609.0,911.2 L615.8,911.2 L622.6,911.2 L629.5,911.2 L636.3,911.2 L643.1,911.2 L649.9,911.2 L656.8,911.2 L663.6,911.2 L670.4,911.2 L677.2,911.3 L684.1,911.3 L690.9,911.3 L697.7,911.3 L704.5,911.4 L711.4,911.4 L718.2,911.4 L725.0,911.4 L731.8,911.5 L738.6,911.4 L745.5,911.2 L752.3,911.0 L759.1,910.8 L765.9,910.8 L772.8,910.9 L779.6,910.9 L786.4,911.0 L793.2,911.0 L800.1,911.0 L806.9,911.0 L813.7,911.0 L820.5,911.0 L827.3,911.0 L834.2,911.0 L841.0,911.0 L847.8,911.1 L854.6,911.2 L861.5,911.4 L868.3,911.7 L875.1,911.9 L881.9,912.0 L888.8,912.0 L895.6,912.0 L902.4,912.0 L909.2,911.9 L916.1,911.9 L922.9,911.9 L929.7,911.9 L936.5,911.9 L943.3,911.9 L950.2,911.9 L957.0,911.9 L963.8,911.9 L970.6,911.9" fill="none" stroke="#00ffff" stroke-width="4.5" stroke-linejoin="round"/>
</g>
<rect x="714.6" y="122.5" width="57.4" height="23" fill="#fff"/><rect x="714.6" y="158.2" width="17.4" height="23" fill="#fff"/><rect x="714.6" y="193.8" width="17.4" height="23" fill="#fff"/><rect x="714.6" y="229.5" width="16.4" height="23" fill="#fff"/><rect x="714.6" y="265.2" width="384.1" height="23" fill="#fff"/><rect x="714.6" y="300.9" width="397.7" height="23" fill="#fff"/><rect x="714.6" y="336.5" width="369.5" height="23" fill="#fff"/><rect x="714.6" y="372.2" width="436.0" height="23" fill="#fff"/><rect x="714.6" y="407.9" width="445.1" height="23" fill="#fff"/><rect x="714.6" y="443.5" width="103.6" height="23" fill="#fff"/>
<text x="718.3" y="139.5" class="lg">X+Y+Z</text><text x="718.3" y="175.2" class="lg">X</text><text x="718.3" y="210.8" class="lg">Y</text><text x="718.3" y="246.5" class="lg">Z</text><text x="718.3" y="282.2" class="lg">ZV (59.2 Hz, vibr=1.5%, sm~=0.04, accel&lt;=13500)</text><text x="718.3" y="317.9" class="lg">MZV (61.0 Hz, vibr=0.0%, sm~=0.06, accel&lt;=10900)</text><text x="718.3" y="353.5" class="lg">EI (73.2 Hz, vibr=0.0%, sm~=0.06, accel&lt;=9900)</text><text x="718.3" y="389.2" class="lg">2HUMP_EI (91.2 Hz, vibr=0.0%, sm~=0.07, accel&lt;=9200)</text><text x="718.3" y="424.9" class="lg">3HUMP_EI (109.6 Hz, vibr=0.0%, sm~=0.07, accel&lt;=8700)</text><text x="718.3" y="460.5" class="lg">After shaper</text>
</svg>
</body></html>
